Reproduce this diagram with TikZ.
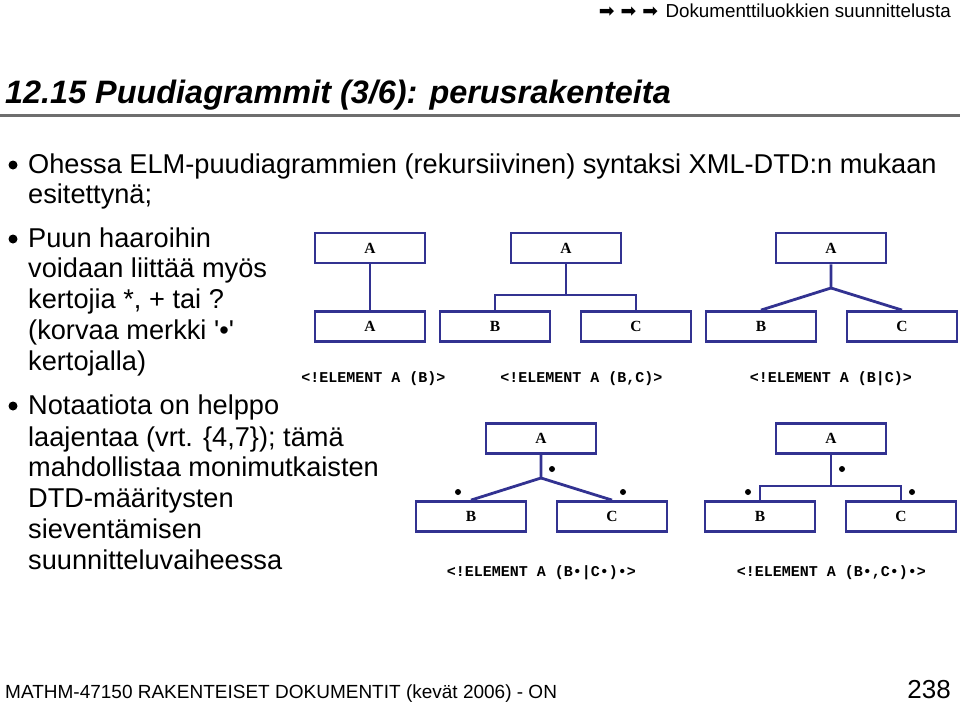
\documentclass[tikz,border=0pt]{standalone}
\usepackage{fontspec}
\setmainfont{Liberation Sans}
\newfontfamily\sansnq[Ligatures=TeXOff]{Liberation Sans}
\newfontfamily\serifb{Liberation Serif}
\newfontfamily\monob{Liberation Mono}
\newfontfamily\dejavu{DejaVu Sans}
\definecolor{navy}{RGB}{50,50,145}
\definecolor{rulegray}{RGB}{110,110,110}
\begin{document}
\begin{tikzpicture}[x=1pt,y=-1pt,
  box/.style={draw=navy, line width=2.8pt, minimum width=110pt, minimum height=30pt, inner sep=0pt, font=\serifb\bfseries\fontsize{15.5}{15.5}\selectfont},
  conn/.style={draw=navy, line width=2.8pt},
  lbl/.style={font=\monob\bfseries\fontsize{15}{15}\selectfont, inner sep=0pt, anchor=base},
  txt/.style={font=\fontsize{27.2}{30}\selectfont, inner sep=0pt, anchor=base west},
  dotm/.style={circle, fill=black, minimum size=6pt, inner sep=0pt},
  bul/.style={circle, fill=black, minimum size=9pt, inner sep=0pt}]
\useasboundingbox (0,0) rectangle (960,709);
\fill[white] (0,0) rectangle (960,709);

% header
\node[anchor=base east, inner sep=0pt, font=\fontsize{18.8}{20}\selectfont] (hdr) at (951,18) {Dokumenttiluokkien suunnittelusta};
\node[anchor=base east, inner sep=0pt, font=\dejavu\fontsize{18.8}{20}\selectfont] (arr) at ([xshift=-7pt]hdr.base west) {➡ ➡ ➡};

% title
\node[anchor=base west, inner sep=0pt, font=\bfseries\itshape\fontsize{32.4}{34}\selectfont] (title) at (5,103) {12.15 Puudiagrammit (3/6): perusrakenteita};
\draw[rulegray, line width=3pt] (0,115) -- (960,115);

% bullets and text
\node[bul] (b1) at (13,165) {};
\node[txt] (t1) at (28,173) {Ohessa ELM-puudiagrammien (rekursiivinen) syntaksi XML-DTD:n mukaan};
\node[txt] (t2) at (28,203) {esitettynä;};
\node[bul] (b2) at (13,239) {};
\node[txt] (t3) at (28,247) {Puun haaroihin};
\node[txt] (t4) at (28,277) {voidaan liittää myös};
\node[txt] (t5) at (28,308) {kertojia *, + tai ?};
\node[txt] (t6) at (28,339) {\sansnq (korvaa merkki '•'};
\node[txt] (t7) at (28,370) {kertojalla)};
\node[bul] (b3) at (13,406) {};
\node[txt] (t8) at (28,414) {Notaatiota on helppo};
\node[txt] (t9) at (28,446) {laajentaa (vrt. \{4,7\}); tämä};
\node[txt] (t10) at (28,476) {mahdollistaa monimutkaisten};
\node[txt] (t11) at (28,507) {DTD-määritysten};
\node[txt] (t12) at (28,538) {sieventämisen};
\node[txt] (t13) at (28,569) {suunnitteluvaiheessa};

% tree 1
\node[box] (A1) at (370,248) {A};
\node[box] (A1b) at (370,326.5) {A};
\draw[conn] (A1.south) -- (A1b.north);
\node[lbl] (L1) at (373.5,382) {<!ELEMENT A (B)>};

% tree 2
\node[box] (A2) at (566,248) {A};
\node[box] (B2) at (495,326.5) {B};
\node[box] (C2) at (636,326.5) {C};
\coordinate (j2) at (566,295);
\draw[conn] (A2.south) -- (j2);
\draw[conn] (B2.north) |- (j2) -| (C2.north);
\node[lbl] (L2) at (581.5,382) {<!ELEMENT A (B,C)>};

% tree 3
\node[box] (A3) at (831,248) {A};
\node[box] (B3) at (761,326.5) {B};
\node[box] (C3) at (902,326.5) {C};
\coordinate (j3) at (831,288);
\draw[conn] (A3.south) -- (j3) -- (B3.north);
\draw[conn] (j3) -- (C3.north);
\node[lbl] (L3) at (831,382) {<!ELEMENT A (B|C)>};

% tree 4
\node[box] (A4) at (541,438.5) {A};
\node[box] (B4) at (471,516.5) {B};
\node[box] (C4) at (612,516.5) {C};
\coordinate (j4) at (541,478);
\draw[conn] (A4.south) -- (j4) -- (B4.north);
\draw[conn] (j4) -- (C4.north);
\node[dotm] (d41) at (552,469) {};
\node[dotm] (d42) at (458,492) {};
\node[dotm] (d43) at (623,492) {};
\node[lbl] (L4) at (541.5,576) {<!ELEMENT A (B•|C•)•>};

% tree 5
\node[box] (A5) at (831,438.5) {A};
\node[box] (B5) at (760,516.5) {B};
\node[box] (C5) at (901,516.5) {C};
\coordinate (j5) at (831,486);
\draw[conn] (A5.south) -- (j5);
\draw[conn] (B5.north) |- (j5) -| (C5.north);
\node[dotm] (d51) at (842,469) {};
\node[dotm] (d52) at (748,492) {};
\node[dotm] (d53) at (912,492) {};
\node[lbl] (L5) at (831.5,576) {<!ELEMENT A (B•,C•)•>};

% footer
\node[anchor=base west, inner sep=0pt, font=\fontsize{19}{20}\selectfont] (foot) at (5,698) {MATHM-47150 RAKENTEISET DOKUMENTIT (kevät 2006) - ON};
\node[anchor=base east, inner sep=0pt, font=\fontsize{26}{27}\selectfont] (page) at (951,698) {238};
\end{tikzpicture}
\end{document}
